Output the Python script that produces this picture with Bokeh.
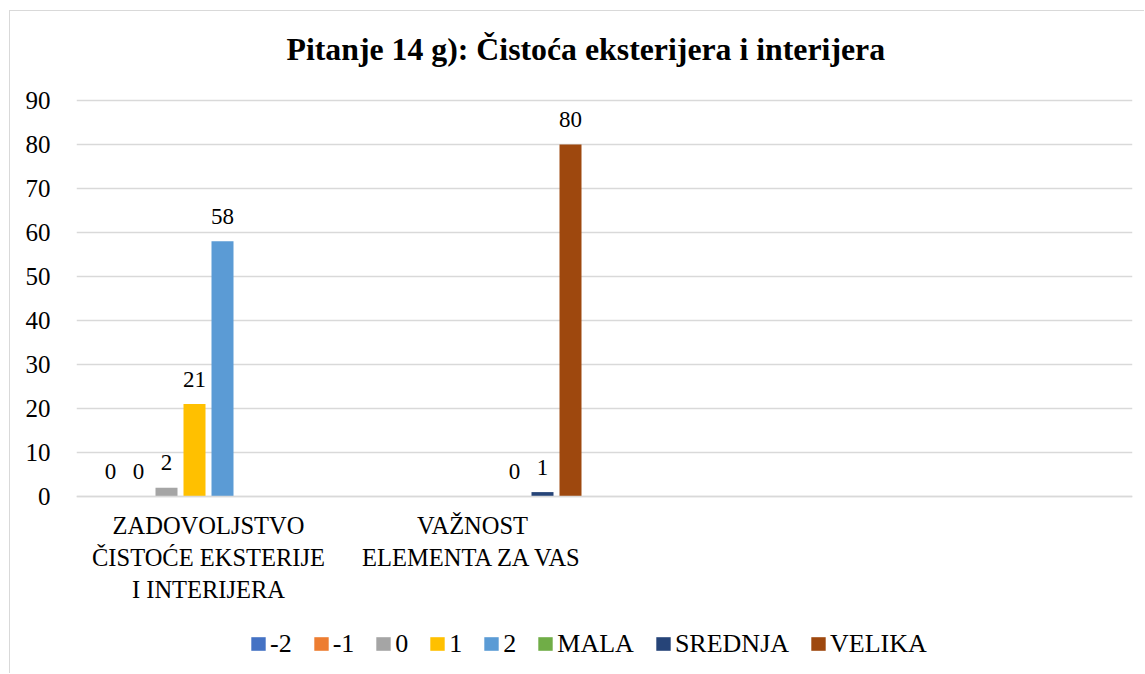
import math
from bokeh.plotting import figure
from bokeh.models import (ColumnDataSource, FactorRange, Range1d, Legend, LegendItem,
                          FixedTicker, Label)
from bokeh.transform import dodge
from bokeh.embed import file_html
from bokeh.resources import INLINE

# ---------------- data ----------------
categories = ["ZADOVOLJSTVO\nČISTOĆE EKSTERIJE\nI INTERIJERA",
              "VAŽNOST\nELEMENTA ZA VAS", " ", "  "]
series_names = ["-2", "-1", "0", "1", "2", "MALA", "SREDNJA", "VELIKA"]
nan = float("nan")
vals_m2 = [0, nan, nan, nan]
vals_m1 = [0, nan, nan, nan]
vals_0 = [2, nan, nan, nan]
vals_1 = [21, nan, nan, nan]
vals_2 = [58, nan, nan, nan]
vals_mala = [nan, 0, nan, nan]
vals_srednja = [nan, 1, nan, nan]
vals_velika = [nan, 80, nan, nan]
series_values = [vals_m2, vals_m1, vals_0, vals_1, vals_2,
                 vals_mala, vals_srednja, vals_velika]
y_ticks = [0, 10, 20, 30, 40, 50, 60, 70, 80, 90]
title_text = "Pitanje 14 g): Čistoća eksterijera i interijera"

# ---------------- styles / layout ----------------
colors = ["#4472C4", "#ED7D31", "#A5A5A5", "#FFC000", "#5B9BD5",
          "#70AD47", "#264478", "#9E480E"]
FONT = "Liberation Serif"
W, H = 1135, 663
FL, FR = 66, 13
PX_PER_UNIT = 4.4           # 10 units = 44 px
TOP_PX, BOTTOM_PX = 89, 178  # canvas space above value 90 / below value 0
y_start = -BOTTOM_PX / PX_PER_UNIT
y_end = 90 + TOP_PX / PX_PER_UNIT

p = figure(x_range=FactorRange(factors=categories, range_padding=0),
           y_range=Range1d(y_start, y_end),
           width=W, height=H, output_backend="svg", toolbar_location=None,
           min_border_left=FL, min_border_top=0, min_border_right=FR,
           min_border_bottom=0)
p.styles = {"margin-left": "9px", "margin-top": "10px",
            "border-left": "1px solid #d9d9d9", "border-top": "1px solid #d9d9d9"}
p.outline_line_color = None
p.background_fill_color = "white"
p.border_fill_color = "white"

slot = 28 / 264.0
bar_w = 22 / 264.0
items = []
for i, (name, vals, col) in enumerate(zip(series_names, series_values, colors)):
    off = (i - 3.5) * slot
    src = ColumnDataSource(dict(cat=categories, val=vals))
    r = p.vbar(x=dodge("cat", off, range=p.x_range), top="val", bottom=0,
               width=bar_w, source=src, fill_color=col, line_color=None)
    items.append(LegendItem(label=name, renderers=[r]))
    lab_cats = [c for c, v in zip(categories, vals) if not math.isnan(v)]
    lab_vals = [v for v in vals if not math.isnan(v)]
    lsrc = ColumnDataSource(dict(cat=lab_cats, val=lab_vals,
                                 txt=[str(int(v)) for v in lab_vals]))
    p.text(x=dodge("cat", off, range=p.x_range), y="val", text="txt", source=lsrc,
           text_align="center", text_baseline="alphabetic", y_offset=-25,
           text_font={"value": FONT}, text_font_size="23px", text_color="#000000")

# axes
p.yaxis.ticker = FixedTicker(ticks=y_ticks)
p.ygrid.ticker = FixedTicker(ticks=y_ticks)
p.yaxis.axis_line_color = None
p.yaxis.major_tick_line_color = None
p.yaxis.minor_tick_line_color = None
p.yaxis.major_label_text_font = FONT
p.yaxis.major_label_text_font_size = "25px"
p.yaxis.major_label_text_color = "#000000"
p.yaxis.major_label_standoff = 20

p.xaxis.fixed_location = 0
p.xaxis.axis_line_color = "#d9d9d9"
p.xaxis.axis_line_width = 1.5
p.xaxis.major_tick_line_color = None
p.xaxis.minor_tick_line_color = None
p.xaxis.major_label_text_font = FONT
p.xaxis.major_label_text_font_size = "24.5px"
p.xaxis.major_label_text_color = "#000000"
p.xaxis.major_label_standoff = 9
p.xaxis.major_label_orientation = "horizontal"

p.xgrid.grid_line_color = None
p.ygrid.grid_line_color = "#d9d9d9"
p.ygrid.grid_line_width = 1.5

# title (frame-relative screen units: from frame bottom-left)
p.add_layout(Label(x=210, y=625, x_units="screen", y_units="screen",
                   text=title_text, text_font=FONT, text_font_size="31.8px",
                   text_font_style="bold", text_align="left",
                   text_baseline="alphabetic", text_color="#000000"))

legend = Legend(items=items, orientation="horizontal", location=(173, 15.5),
                label_text_font=FONT, label_text_font_size="26px",
                label_text_color="#000000", glyph_width=18, glyph_height=17,
                label_width=0, label_standoff=3, spacing=20, padding=0, margin=0,
                border_line_color=None, background_fill_alpha=0)
p.add_layout(legend, "center")

open("out.html", "w").write(file_html(p, INLINE))
